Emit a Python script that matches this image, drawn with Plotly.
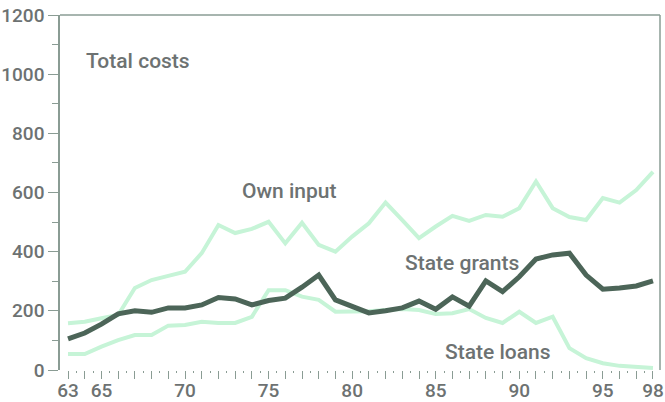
import plotly.graph_objects as go

years = list(range(63, 99))
state_grants = [105, 125, 155, 190, 200, 195, 210, 210, 220, 245, 240, 220, 235, 243, 280, 321,
                237, 213, 193, 200, 210, 233, 205, 247, 216, 301, 265, 315, 375, 389, 395, 321,
                273, 277, 284, 301]
own_input = [158, 163, 175, 186, 277, 304, 318, 332, 395, 490, 463, 477, 501, 428, 498, 423,
             400, 451, 496, 566, 507, 446, 485, 521, 504, 524, 518, 547, 637, 547, 517, 507,
             581, 566, 608, 670]
state_loans = [54, 54, 79, 101, 118, 118, 150, 152, 163, 159, 159, 180, 270, 270, 248, 237,
               197, 197, 199, 203, 206, 203, 189, 192, 206, 176, 159, 197, 159, 180, 74, 40,
               23, 14, 10, 7]
x_label_years = [63, 65, 70, 75, 80, 85, 90, 95, 98]
y_ticks = [0, 200, 400, 600, 800, 1000, 1200]

labels = [
    ("Total costs", 67.2, 1045),
    ("Own input", 76.2, 605),
    ("State grants", 86.55, 362),
    ("State loans", 88.7, 62),
]

FONT = "Roboto, Liberation Sans, Arial, sans-serif"
TXT = "#6d7272"
AX = "#8a9c94"
LIGHT = "#c6f4d7"
DARK = "#4c6558"

fig = go.Figure()
fig.add_trace(go.Scatter(x=years, y=own_input, mode="lines",
                         line=dict(color=LIGHT, width=4), hoverinfo="skip"))
fig.add_trace(go.Scatter(x=years, y=state_loans, mode="lines",
                         line=dict(color=LIGHT, width=4), hoverinfo="skip"))
fig.add_trace(go.Scatter(x=years, y=state_grants, mode="lines",
                         line=dict(color=DARK, width=5), hoverinfo="skip"))

for text, xv, yv in labels:
    fig.add_annotation(x=xv, y=yv, text=text, showarrow=False,
                       font=dict(family=FONT, size=21, color=TXT, weight=500))

# frame: top and right edges (no bottom line)
fig.add_shape(type="line", xref="paper", yref="paper", x0=0, x1=1, y0=1, y1=1,
              line=dict(color=AX, width=1.5))
fig.add_shape(type="line", xref="paper", yref="paper", x0=1, x1=1, y0=0, y1=1,
              line=dict(color=AX, width=1.5))

fig.update_layout(
    width=665, height=402,
    margin=dict(l=60, r=5, t=15, b=32),
    paper_bgcolor="white", plot_bgcolor="white",
    showlegend=False,
    font=dict(family=FONT, color=TXT),
)
fig.update_xaxes(
    range=[62.52, 98.42],
    automargin=False,
    tickvals=years,
    ticktext=[str(y) if y in x_label_years else "" for y in years],
    ticks="outside", ticklen=8, tickwidth=1.2, tickcolor=AX,
    tickfont=dict(family=FONT, size=19, color=TXT, weight=500),
    ticklabelstandoff=-5,
    showgrid=False, zeroline=False, showline=False,
    minor=dict(tickvals=[y + 0.5 for y in years[:-1]], ticks="outside",
               ticklen=2, tickcolor=AX, tickwidth=1.2),
)
fig.update_yaxes(
    range=[0, 1200],
    automargin=False,
    tickvals=y_ticks,
    ticks="outside", ticklen=10, tickwidth=1.2, tickcolor=AX,
    tickfont=dict(family=FONT, size=19, color=TXT, weight=500),
    showgrid=False, zeroline=False,
    showline=True, linecolor=AX, linewidth=1.5,
    minor=dict(dtick=100, tick0=0, ticks="outside", ticklen=6,
               tickcolor=AX, tickwidth=1.2),
)

fig.write_html("out.html",
               config={"displayModeBar": False},
               post_script="document.body.style.margin='0';document.body.style.overflow='hidden';")
